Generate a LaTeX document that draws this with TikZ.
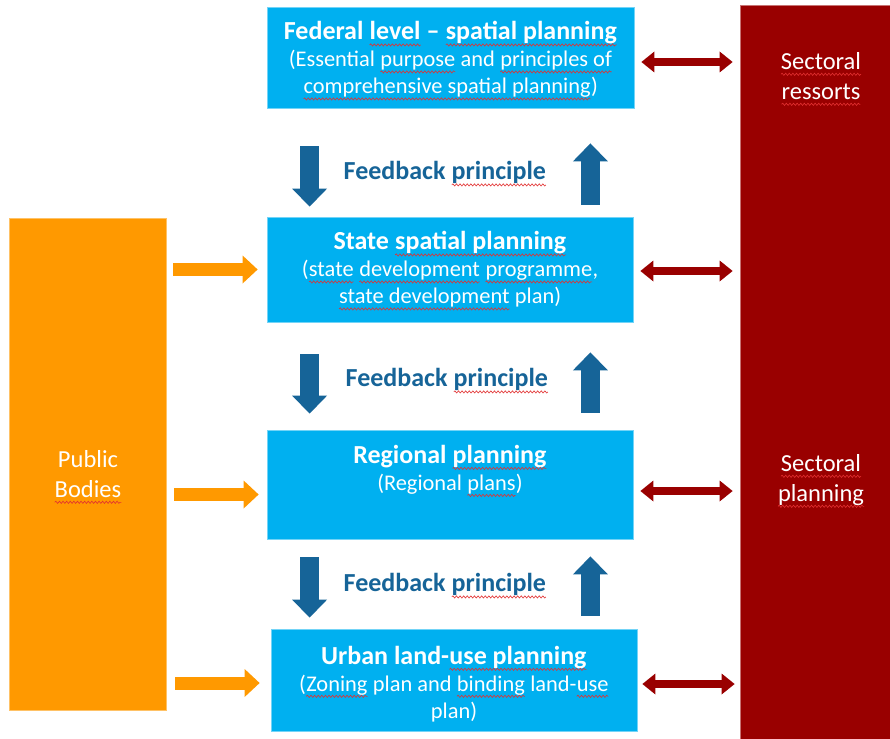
\documentclass[tikz,border=0pt]{standalone}
\usepackage{fontspec}
\setmainfont{Carlito}
\usetikzlibrary{arrows.meta,calc,decorations.pathmorphing}

\definecolor{boxblue}{RGB}{0,176,240}
\definecolor{bodyorange}{RGB}{255,153,0}
\definecolor{sectred}{RGB}{153,0,0}
\definecolor{fbblue}{RGB}{22,100,152}
\definecolor{spellred}{RGB}{226,48,48}

% type sizes
\newcommand\ttl{\fontsize{26}{28}\selectfont\bfseries}
\newcommand\subtl{\fontsize{22.4}{27}\selectfont}
\newcommand\sidefont{\fontsize{24.5}{30}\selectfont}

% word with a wavy red underline
\newcommand\sqw[1]{\tikz[baseline=(sqw.base)]{%
  \node[rectangle,draw=none,fill=none,inner sep=0pt,outer sep=0pt,
        minimum size=0pt,anchor=base,font={}] (sqw) {#1};%
  \draw[spellred,line width=0.6pt,decorate,
        decoration={snake,amplitude=1.1pt,segment length=3.6pt}]
    ([yshift=-5pt]sqw.base west) -- ([yshift=-5pt]sqw.base east);}}

\tikzset{
  planbox/.style={rectangle,fill=boxblue,draw=boxblue!55!white,line width=0.8pt,inner sep=0pt},
  bodybox/.style={rectangle,fill=bodyorange,draw=bodyorange!60!white,line width=0.8pt,inner sep=0pt},
  sectbox/.style={rectangle,fill=sectred,draw=sectred!55!white,line width=0.8pt,inner sep=0pt},
  boxtext/.style={text=white,align=center,font=\subtl,inner sep=0pt},
  sidetext/.style={text=white,align=center,font=\sidefont,inner sep=0pt},
  fbtext/.style={text=fbblue,font=\ttl,inner sep=0pt},
  fbarrow/.style={color=fbblue,line width=19pt,
    -{Triangle[length=18pt,width=35pt,line width=0pt,fill=fbblue,color=fbblue]}},
  inarrow/.style={color=bodyorange,line width=13pt,
    -{Triangle[length=15pt,width=28pt,line width=0pt,fill=bodyorange,color=bodyorange]}},
  sectarrow/.style={color=sectred,line width=8pt,
    {Triangle[length=13pt,width=21pt,line width=0pt,fill=sectred,color=sectred]}-%
    {Triangle[length=13pt,width=21pt,line width=0pt,fill=sectred,color=sectred]}},
}

\begin{document}
\begin{tikzpicture}[x=1pt,y=-1pt]
\useasboundingbox[fill=white] (0,0) rectangle (890,738);

% side columns
\node[bodybox,minimum width=157pt,minimum height=492pt] (pub) at (87.5,464) {};
\node[sectbox,minimum width=160pt,minimum height=740pt] (sect) at (820,375) {};

% planning levels
\node[planbox,minimum width=367pt,minimum height=101pt] (fed) at (450.5,57.5) {};
\node[planbox,minimum width=366pt,minimum height=105pt] (state) at (450,269.5) {};
\node[planbox,minimum width=366pt,minimum height=109pt] (regional) at (450,484.5) {};
\node[planbox,minimum width=366pt,minimum height=102pt] (urban) at (454,680) {};

% level texts
\node[boxtext] (fedtxt) at (450.5,61)
  {{\ttl Federal \sqw{level} – \sqw{spatial planning}}\\
   (Essential \sqw{purpose} and \sqw{principles of}\\
   \sqw{comprehensive spatial planning})};
\node[boxtext] (statetxt) at (450,271)
  {{\ttl State \sqw{spatial planning}}\\
   (\sqw{state} \sqw{development} \sqw{programme},\\
   \sqw{state development} plan)};
\node[boxtext] (regtxt) at (450,471)
  {{\ttl Regional \sqw{planning}}\\
   (Regional \sqw{plans})};
\node[boxtext] (urbtxt) at (454,684)
  {{\ttl Urban land-\sqw{use planning}}\\
   (\sqw{Zoning} plan and \sqw{binding} land-\sqw{use}\\
   plan)};

% side texts
\node[sidetext] (pubtxt) at (88,477) {Public\\ \sqw{Bodies}};
\node[sidetext] (secttop) at (821,79) {\sqw{Sectoral}\\ \sqw{ressorts}};
\node[sidetext] (sectmid) at (821,481) {\sqw{Sectoral}\\ \sqw{planning}};

% feedback labels
\node[fbtext] (fb1) at (445,174) {Feedback \sqw{principle}};
\node[fbtext] (fb2) at (447,381) {Feedback \sqw{principle}};
\node[fbtext] (fb3) at (445,586) {Feedback \sqw{principle}};

% feedback arrows: down and up between levels
\draw[fbarrow] ($(fed.south west)+(43,38)$) -- ($(state.north west)+(43,-10)$);
\draw[fbarrow] ($(state.north east)+(-43,-12)$) -- ($(fed.south east)+(-44,35)$);
\draw[fbarrow] ($(state.south west)+(43,32)$) -- ($(regional.north west)+(43,-16)$);
\draw[fbarrow] ($(regional.north east)+(-43,-17)$) -- ($(state.south east)+(-43,30)$);
\draw[fbarrow] ($(regional.south west)+(43,18)$) -- ($(urban.north west)+(39,-11)$);
\draw[fbarrow] ($(urban.north east)+(-47,-13)$) -- ($(regional.south east)+(-43,17)$);

% public bodies into the levels
\draw[inarrow] ($(pub.east |- state.west)+(7,0)$) -- ($(state.west)+(-9,0)$);
\draw[inarrow] ($(pub.east |- regional.west)+(8,10)$) -- ($(regional.west)+(-8,10)$);
\draw[inarrow] ($(pub.east |- urban.west)+(9,3)$) -- ($(urban.west)+(-11,3)$);

% exchange with sectoral planning
\draw[sectarrow] ($(fed.east)+(7,4.5)$) -- ($(sect.west |- fed.east)+(-7,4.5)$);
\draw[sectarrow] ($(state.east)+(7,1.5)$) -- ($(sect.west |- state.east)+(-7,1.5)$);
\draw[sectarrow] ($(regional.east)+(7,6.5)$) -- ($(sect.west |- regional.east)+(-7,6.5)$);
\draw[sectarrow] ($(urban.east)+(5,4)$) -- ($(sect.west |- urban.east)+(-5,4)$);
\end{tikzpicture}
\end{document}
